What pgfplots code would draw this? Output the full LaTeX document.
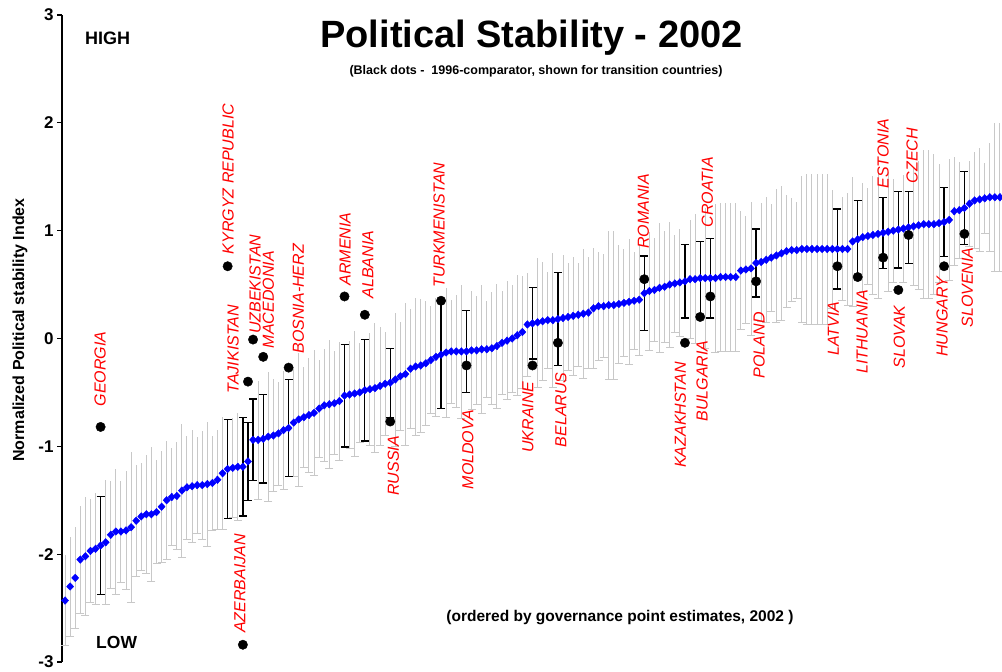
\documentclass[border=0pt]{standalone}
\usepackage{fontspec}
\setmainfont{Liberation Sans}
\usepackage{pgfplots}
\pgfplotsset{compat=1.18}
\usepackage{pgfplotstable}
\definecolor{bargrey}{RGB}{200,200,200}
\definecolor{ptblue}{RGB}{0,0,255}
\definecolor{lblred}{RGB}{255,0,0}

% all countries: rank, 2002 estimate, half width of the interval
\pgfplotstableread{
i v e
0 -2.43 0.42
1 -2.30 0.46
2 -2.22 0.47
3 -2.05 0.50
4 -2.02 0.55
5 -1.97 0.48
6 -1.95 0.52
7 -1.92 0.455
8 -1.89 0.58
9 -1.82 0.50
10 -1.79 0.58
11 -1.79 0.47
12 -1.78 0.55
13 -1.75 0.70
14 -1.69 0.52
15 -1.65 0.50
16 -1.63 0.55
17 -1.63 0.62
18 -1.61 0.48
19 -1.56 0.52
20 -1.50 0.55
21 -1.47 0.45
22 -1.46 0.50
23 -1.41 0.62
24 -1.38 0.48
25 -1.37 0.52
26 -1.36 0.45
27 -1.36 0.50
28 -1.35 0.58
29 -1.34 0.44
30 -1.31 0.46
31 -1.25 0.52
32 -1.21 0.46
33 -1.20 0.46
34 -1.19 0.50
35 -1.19 0.455
36 -1.14 0.36
37 -0.94 0.38
38 -0.94 0.55
39 -0.93 0.41
40 -0.91 0.60
41 -0.90 0.52
42 -0.88 0.48
43 -0.85 0.55
44 -0.83 0.45
45 -0.78 0.50
46 -0.75 0.62
47 -0.73 0.47
48 -0.71 0.53
49 -0.69 0.58
50 -0.65 0.45
51 -0.62 0.52
52 -0.61 0.60
53 -0.60 0.48
54 -0.58 0.55
55 -0.53 0.475
56 -0.52 0.50
57 -0.51 0.58
58 -0.50 0.46
59 -0.48 0.47
60 -0.47 0.52
61 -0.46 0.60
62 -0.44 0.55
63 -0.42 0.48
64 -0.41 0.32
65 -0.38 0.62
66 -0.35 0.50
67 -0.33 0.66
68 -0.28 0.55
69 -0.26 0.64
70 -0.25 0.62
71 -0.23 0.58
72 -0.20 0.50
73 -0.17 0.55
74 -0.15 0.50
75 -0.13 0.60
76 -0.12 0.48
77 -0.12 0.52
78 -0.12 0.62
79 -0.12 0.38
80 -0.11 0.55
81 -0.11 0.50
82 -0.10 0.60
83 -0.10 0.45
84 -0.09 0.52
85 -0.07 0.58
86 -0.04 0.48
87 -0.02 0.55
88 0.00 0.50
89 0.03 0.56
90 0.06 0.52
91 0.13 0.48
92 0.14 0.33
93 0.15 0.60
94 0.16 0.55
95 0.17 0.45
96 0.17 0.62
97 0.18 0.43
98 0.19 0.58
99 0.20 0.50
100 0.21 0.55
101 0.22 0.48
102 0.23 0.60
103 0.24 0.52
104 0.28 0.56
105 0.30 0.50
106 0.30 0.48
107 0.31 0.69
108 0.31 0.69
109 0.32 0.55
110 0.33 0.50
111 0.34 0.58
112 0.35 0.45
113 0.36 0.52
114 0.42 0.345
115 0.44 0.55
116 0.45 0.48
117 0.47 0.60
118 0.48 0.52
119 0.50 0.58
120 0.51 0.45
121 0.52 0.50
122 0.53 0.34
123 0.55 0.55
124 0.55 0.60
125 0.56 0.34
126 0.56 0.65
127 0.56 0.37
128 0.56 0.69
129 0.57 0.69
130 0.57 0.69
131 0.57 0.69
132 0.57 0.69
133 0.63 0.55
134 0.64 0.50
135 0.65 0.62
136 0.70 0.315
137 0.71 0.55
138 0.73 0.58
139 0.75 0.50
140 0.77 0.62
141 0.79 0.62
142 0.81 0.52
143 0.82 0.48
144 0.82 0.45
145 0.83 0.68
146 0.83 0.70
147 0.83 0.70
148 0.83 0.70
149 0.83 0.70
150 0.83 0.70
151 0.83 0.55
152 0.83 0.37
153 0.83 0.48
154 0.83 0.52
155 0.90 0.60
156 0.92 0.36
157 0.94 0.50
158 0.95 0.45
159 0.96 0.55
160 0.97 0.60
161 0.98 0.33
162 0.99 0.55
163 1.00 0.48
164 1.01 0.355
165 1.02 0.50
166 1.03 0.335
167 1.04 0.55
168 1.05 0.60
169 1.06 0.69
170 1.06 0.69
171 1.06 0.65
172 1.07 0.55
173 1.08 0.32
174 1.10 0.56
175 1.18 0.50
176 1.19 0.45
177 1.21 0.34
178 1.25 0.40
179 1.28 0.45
180 1.29 0.48
181 1.30 0.33
182 1.31 0.50
183 1.31 0.69
184 1.31 0.69
}\alldata

% transition countries: rank, 2002 estimate, half width, 1996 value
\pgfplotstableread{
i v e d
7 -1.92 0.455 -0.82
32 -1.21 0.46 0.67
35 -1.19 0.455 -2.84
36 -1.14 0.36 -0.40
37 -0.94 0.38 -0.01
39 -0.93 0.41 -0.17
44 -0.83 0.45 -0.27
55 -0.53 0.475 0.39
59 -0.48 0.47 0.22
64 -0.41 0.32 -0.77
74 -0.15 0.50 0.35
79 -0.12 0.38 -0.25
92 0.14 0.33 -0.25
97 0.18 0.43 -0.04
114 0.42 0.345 0.55
122 0.53 0.34 -0.04
125 0.56 0.34 0.20
127 0.56 0.37 0.39
136 0.70 0.315 0.53
152 0.83 0.37 0.67
156 0.92 0.36 0.57
161 0.98 0.33 0.75
164 1.01 0.355 0.45
166 1.03 0.335 0.96
173 1.08 0.32 0.67
177 1.21 0.34 0.97
}\transdata

\begin{document}
\begin{tikzpicture}[
    rlabel/.style={rotate=90, anchor=west, inner sep=0pt, text=lblred,
        font=\itshape\fontsize{16bp}{16bp}\selectfont}]
\useasboundingbox (0,0) rectangle (1002bp,672bp);
\begin{axis}[
    at={(62bp,10bp)}, anchor=south west,
    scale only axis, width=940bp, height=647bp,
    xmin=-0.6, xmax=184.4, ymin=-3, ymax=3,
    axis x line=none, axis y line*=left,
    axis line style={line width=1.1bp},
    ytick={-3,-2,-1,0,1,2,3},
    yticklabels={-3,-2,-1,0,1,2,3},
    tick align=outside, major tick length=5bp,
    tick style={line width=1.1bp, black},
    yticklabel style={font=\bfseries\fontsize{17bp}{17bp}\selectfont},
    clip=false,
]
% grey intervals, capped only at the bottom
\addplot[only marks, mark=none, forget plot,
    error bars/.cd, y dir=plus, y explicit, error mark=none,
    error bar style={bargrey, line width=1bp}]
    table[x=i, y=v, y error=e] {\alldata};
\addplot[only marks, mark=none, forget plot,
    error bars/.cd, y dir=minus, y explicit,
    error bar style={bargrey, line width=1bp},
    error mark options={rotate=90, bargrey, mark size=4bp, line width=1bp}]
    table[x=i, y=v, y error=e] {\alldata};
% transition countries in black
\addplot[only marks, mark=none, forget plot,
    error bars/.cd, y dir=both, y explicit,
    error bar style={black, line width=1.3bp},
    error mark options={rotate=90, black, mark size=4bp, line width=1.3bp}]
    table[x=i, y=v, y error=e] {\transdata};
% 2002 estimates
\addplot[only marks, mark=diamond*, mark size=3.8bp, ptblue,
    mark options={xscale=1.25, draw=ptblue, fill=ptblue}]
    table[x=i, y=v] {\alldata};
% 1996 comparator
\addplot[only marks, mark=*, mark size=4.7bp, black]
    table[x=i, y=d] {\transdata};

\node[rlabel] at (axis cs:6.9,-0.63) {GEORGIA};
\node[rlabel] at (axis cs:32.1,0.78) {KYRGYZ REPUBLIC};
\node[rlabel] at (axis cs:33.1,-0.51) {TAJIKISTAN};
\node[rlabel] at (axis cs:34.4,-2.73) {AZERBAIJAN};
\node[rlabel] at (axis cs:37.4,0.04) {UZBEKISTAN};
\node[rlabel] at (axis cs:40.0,-0.09) {MACEDONIA};
\node[rlabel] at (axis cs:45.9,-0.14) {BOSNIA-HERZ};
\node[rlabel] at (axis cs:55.1,0.49) {ARMENIA};
\node[rlabel] at (axis cs:59.6,0.37) {ALBANIA};
\node[rlabel] at (axis cs:64.6,-1.46) {RUSSIA};
\node[rlabel] at (axis cs:73.6,0.47) {TURKMENISTAN};
\node[rlabel] at (axis cs:79.3,-1.40) {MOLDOVA};
\node[rlabel] at (axis cs:91.1,-1.06) {UKRAINE};
\node[rlabel] at (axis cs:97.6,-1.01) {BELARUS};
\node[rlabel] at (axis cs:113.8,0.83) {ROMANIA};
\node[rlabel] at (axis cs:121.1,-1.20) {KAZAKHSTAN};
\node[rlabel] at (axis cs:125.4,-0.77) {BULGARIA};
\node[rlabel] at (axis cs:126.4,1.03) {CROATIA};
\node[rlabel] at (axis cs:136.6,-0.37) {POLAND};
\node[rlabel] at (axis cs:151.2,-0.16) {LATVIA};
\node[rlabel] at (axis cs:156.9,-0.33) {LITHUANIA};
\node[rlabel] at (axis cs:161.0,1.39) {ESTONIA};
\node[rlabel] at (axis cs:164.2,-0.28) {SLOVAK};
\node[rlabel] at (axis cs:166.7,1.44) {CZECH};
\node[rlabel] at (axis cs:172.6,-0.17) {HUNGARY};
\node[rlabel] at (axis cs:177.6,0.10) {SLOVENIA};
\end{axis}

\node[anchor=base, font=\bfseries\fontsize{38bp}{38bp}\selectfont]
    at (531.5bp,624bp) {Political Stability - 2002};
\node[anchor=base, font=\bfseries\fontsize{12.5bp}{12.5bp}\selectfont]
    at (536bp,597bp) {(Black dots -\ \ 1996-comparator, shown for transition countries)};
\node[anchor=base west, inner sep=0pt, font=\bfseries\fontsize{18bp}{18bp}\selectfont]
    at (85bp,627bp) {HIGH};
\node[anchor=base west, inner sep=0pt, font=\bfseries\fontsize{17.5bp}{17.5bp}\selectfont]
    at (96bp,24bp) {LOW};
\node[anchor=base, font=\bfseries\fontsize{15.5bp}{15.5bp}\selectfont]
    at (620bp,50bp) {(ordered by governance point estimates, 2002 )};
\node[rotate=90, font=\bfseries\fontsize{16bp}{16bp}\selectfont]
    at (20bp,342bp) {Normalized Political stability Index};
\end{tikzpicture}
\end{document}
